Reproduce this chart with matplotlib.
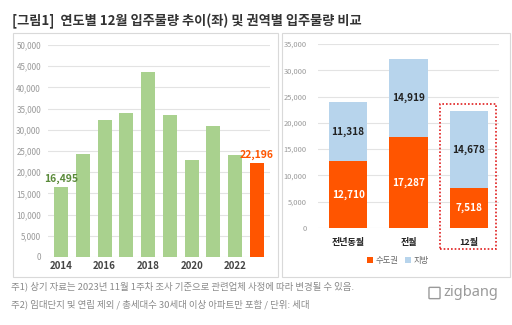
import matplotlib
matplotlib.use("Agg")
import matplotlib.pyplot as plt
from matplotlib.patches import Rectangle, FancyBboxPatch

plt.rcParams['font.family'] = ['Noto Sans CJK KR', 'DejaVu Sans']

years = [2014, 2015, 2016, 2017, 2018, 2019, 2020, 2021, 2022, 2023]
year_values = [16495, 24300, 32200, 33850, 43700, 33600, 22800, 31000, 24028, 22196]
year_ticks = ['2014', '', '2016', '', '2018', '', '2020', '', '2022', '']
left_yticks = [0, 5000, 10000, 15000, 20000, 25000, 30000, 35000, 40000, 45000, 50000]

cats = ['전년동월', '전월', '12월']
capital = [12710, 17287, 7518]
region = [11318, 14919, 14678]
right_yticks = [0, 5000, 10000, 15000, 20000, 25000, 30000, 35000]

GREEN = '#a9d18e'
ORANGE = '#ff5500'
BLUE = '#b7d4ec'
GRID = '#e3e3e3'
TICK = '#999999'

W, H = 512, 325
fig = plt.figure(figsize=(W / 100, H / 100), dpi=100)

def ax_rect(x0, x1, ytop, ybot):
    return [x0 / W, (H - ybot) / H, (x1 - x0) / W, (ybot - ytop) / H]

# panel boxes
for (x0, x1, y0, y1) in [(13, 278, 33, 277), (282, 510, 33, 277)]:
    fig.patches.append(Rectangle((x0 / W, (H - y1) / H), (x1 - x0) / W, (y1 - y0) / H,
                                 transform=fig.transFigure, fill=False,
                                 edgecolor='#d9d9d9', lw=0.8))

# title
fig.text(12 / W, (H - 21) / H, '[그림1]  연도별 12월 입주물량 추이(좌) 및 권역별 입주물량 비교',
         fontsize=9.5, fontweight='bold', color='#333333', va='center', ha='left')

# left chart
ax1 = fig.add_axes(ax_rect(48, 270, 45, 257))
x = list(range(len(years)))
colors = [GREEN] * (len(years) - 1) + [ORANGE]
ax1.bar(x, year_values, width=0.65, color=colors, zorder=3)
ax1.set_xlim(-0.6, 9.6)
ax1.set_ylim(0, 50000)
ax1.set_yticks(left_yticks)
ax1.set_yticklabels([f'{v:,}' for v in left_yticks], fontsize=5.8, color=TICK)
ax1.set_xticks(x)
ax1.set_xticklabels(year_ticks, fontsize=7, fontweight='bold', color='#444444')
ax1.grid(axis='y', color=GRID, lw=0.8, zorder=0)
for s in ax1.spines.values():
    s.set_visible(False)
ax1.tick_params(axis='both', length=0)
ax1.tick_params(axis='y', pad=5)
ax1.tick_params(axis='x', pad=3)
ax1.text(x[0], year_values[0] + 700, f'{year_values[0]:,}', ha='center', va='bottom',
         fontsize=7.5, fontweight='bold', color='#5a8a3a')
ax1.text(x[-1], year_values[-1] + 700, f'{year_values[-1]:,}', ha='center', va='bottom',
         fontsize=7.5, fontweight='bold', color=ORANGE, clip_on=False)

# right chart
ax2 = fig.add_axes(ax_rect(318, 499, 44, 228))
xr = list(range(len(cats)))
ax2.bar(xr, capital, width=0.64, color=ORANGE, zorder=3, label='수도권')
ax2.bar(xr, region, width=0.64, bottom=capital, color=BLUE, zorder=3, label='지방')
ax2.set_xlim(-0.5, 2.5)
ax2.set_ylim(0, 35000)
ax2.set_yticks(right_yticks)
ax2.set_yticklabels([f'{v:,}' for v in right_yticks], fontsize=5.4, color=TICK)
ax2.set_xticks(xr)
ax2.set_xticklabels(cats, fontsize=6.5, fontweight='bold', color='#222222')
ax2.grid(axis='y', color=GRID, lw=0.8, zorder=0)
for s in ax2.spines.values():
    s.set_visible(False)
ax2.tick_params(axis='both', length=0)
ax2.tick_params(axis='y', pad=8)
ax2.tick_params(axis='x', pad=7)
for i in xr:
    ax2.text(i, capital[i] / 2, f'{capital[i]:,}', ha='center', va='center',
             fontsize=7.2, fontweight='bold', color='white', zorder=4)
    ax2.text(i, capital[i] + region[i] / 2, f'{region[i]:,}', ha='center', va='center',
             fontsize=7.2, fontweight='bold', color='#222222', zorder=4)
leg = ax2.legend(loc='center', bbox_to_anchor=(0.44, -0.175), ncol=2, frameon=False,
                 fontsize=6, handlelength=0.7, handleheight=0.7, handletextpad=0.3,
                 columnspacing=0.8)
for t in leg.get_texts():
    t.set_color('#666666')

# red dotted highlight box
fig.patches.append(Rectangle((440 / W, (H - 249) / H), 56 / W, 145 / H,
                             transform=fig.transFigure, fill=False,
                             edgecolor='#e02020', lw=1.2, linestyle=(0, (1, 1.2))))

# footnotes
fig.text(11 / W, (H - 286) / H, '주1) 상기 자료는 2023년 11월 1주차 조사 기준으로 관련업체 사정에 따라 변경될 수 있음.',
         fontsize=6.8, color='#8a8a8a', va='center', ha='left')
fig.text(11 / W, (H - 304) / H, '주2) 임대단지 및 연립 제외 / 총세대수 30세대 이상 아파트만 포함 / 단위: 세대',
         fontsize=6.8, color='#8a8a8a', va='center', ha='left')

# zigbang logo
fig.patches.append(FancyBboxPatch((430 / W, (H - 298) / H), 9 / W, 10 / H,
                                  boxstyle='round,pad=0.002', transform=fig.transFigure,
                                  fill=False, edgecolor='#9a9a9a', lw=1.0))
fig.text(443 / W, (H - 292) / H, 'zigbang', fontsize=10.5, color='#9a9a9a',
         va='center', ha='left', family=['Noto Sans', 'DejaVu Sans'])

fig.savefig('out.png', dpi=100)
